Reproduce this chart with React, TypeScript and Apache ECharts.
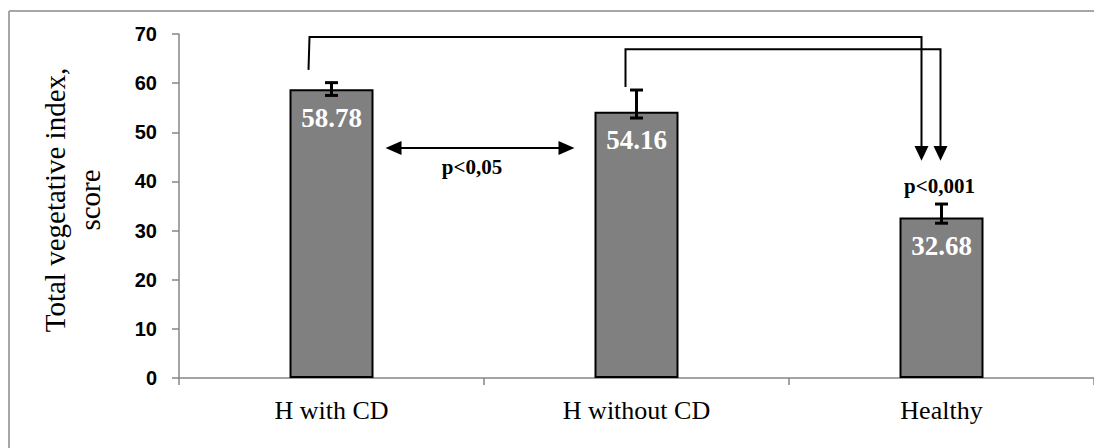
import React, { useEffect, useRef } from "react";
import * as echarts from "echarts";

const categories = ["H with CD", "H without CD", "Healthy"];
const meanValues = [58.78, 54.16, 32.68];
const errorLow = [57.5, 52.9, 31.5];
const errorHigh = [60.1, 58.6, 35.4];
const yMin = 0;
const yMax = 70;
const yInterval = 10;
const yTitle = "Total vegetative index,\nscore";
const pLabelPair12 = "p<0,05";
const pLabelHealthy = "p<0,001";

const SERIF = "'Liberation Serif', 'Times New Roman', serif";
const SANS = "'Liberation Sans', Arial, sans-serif";

export default function App() {
  const ref = useRef<HTMLDivElement>(null);

  useEffect(() => {
    if (!ref.current) return;
    const chart = echarts.init(ref.current, undefined, { renderer: "svg" });

    const option: any = {
      animation: false,
      backgroundColor: "#ffffff",
      grid: { left: 179, top: 34, width: 929, height: 344, containLabel: false },
      xAxis: {
        type: "category",
        data: categories,
        axisLine: { lineStyle: { color: "#868686", width: 1.5 } },
        axisTick: { show: true, length: 7, lineStyle: { color: "#868686", width: 1.5 } },
        axisLabel: {
          margin: 19,
          color: "#000",
          fontFamily: SERIF,
          fontSize: 26,
        },
      },
      yAxis: {
        type: "value",
        min: yMin,
        max: yMax,
        interval: yInterval,
        splitLine: { show: false },
        axisLine: { show: true, lineStyle: { color: "#868686", width: 1.5 } },
        axisTick: { show: true, length: 7, lineStyle: { color: "#868686", width: 1.5 } },
        axisLabel: {
          margin: 22,
          color: "#000",
          fontFamily: SANS,
          fontWeight: "bold",
          fontSize: 20,
        },
      },
      series: [
        {
          type: "bar",
          data: meanValues,
          barWidth: 84,
          itemStyle: { color: "#808080", borderColor: "#000", borderWidth: 2 },
          label: {
            show: true,
            position: "insideTop",
            distance: 15,
            color: "#fff",
            fontFamily: SERIF,
            fontWeight: "bold",
            fontSize: 27,
            formatter: (p: any) => Number(p.value).toFixed(2),
          },
          z: 2,
        },
        {
          type: "custom",
          data: categories.map((_, i) => [i, errorLow[i], errorHigh[i]]),
          encode: { x: 0, y: [1, 2] },
          z: 10,
          renderItem: (params: any, api: any) => {
            const i = api.value(0);
            const lo = api.coord([i, api.value(1)]);
            const hi = api.coord([i, api.value(2)]);
            const half = 6.5;
            const st = { stroke: "#000", lineWidth: 3 };
            return {
              type: "group",
              children: [
                { type: "line", shape: { x1: hi[0], y1: hi[1], x2: lo[0], y2: lo[1] }, style: st },
                { type: "line", shape: { x1: hi[0] - half, y1: hi[1], x2: hi[0] + half, y2: hi[1] }, style: st },
                { type: "line", shape: { x1: lo[0] - half, y1: lo[1], x2: lo[0] + half, y2: lo[1] }, style: st },
              ],
            };
          },
        },
      ],
    };

    chart.setOption(option);

    const px = (i: number) => chart.convertToPixel({ xAxisIndex: 0 }, i) as number;
    const py = (v: number) => chart.convertToPixel({ yAxisIndex: 0 }, v) as number;

    const c0 = px(0);
    const c1 = px(1);
    const c2 = px(2);
    const lineStyle = { stroke: "#000", lineWidth: 2, fill: null };

    const aX0 = c0 - 23;
    const aX1 = c2 - 20;
    const bX0 = c1 - 11;
    const bX1 = c2 - 1;
    const yA = py(69.4);
    const yB = py(66.9);
    const arrowBase = py(47.2);
    const arrowTip = py(44.2);
    const yDouble = py(46.8);
    const dL = c0 + 54;
    const dR = c1 - 62;

    const downHead = (cx: number) => ({
      type: "polygon",
      shape: { points: [[cx - 7, arrowBase], [cx + 7, arrowBase], [cx, arrowTip]] },
      style: { fill: "#000" },
      z: 20,
    });

    chart.setOption({
      graphic: [
        { type: "line", shape: { x1: 9, y1: 11, x2: 1094, y2: 11 }, style: { stroke: "#a6a6a6", lineWidth: 2 }, z: 1 },
        { type: "line", shape: { x1: 9, y1: 11, x2: 9, y2: 448 }, style: { stroke: "#a6a6a6", lineWidth: 2 }, z: 1 },
        {
          type: "text",
          x: 72,
          y: 200,
          rotation: Math.PI / 2,
          style: {
            text: yTitle,
            fontFamily: SERIF,
            fontSize: 29,
            lineHeight: 35,
            fill: "#000",
            align: "center",
            verticalAlign: "middle",
          },
          z: 5,
        },
        {
          type: "polyline",
          shape: { points: [[aX0, py(62.7)], [aX0 + 1, yA], [aX1, yA], [aX1, arrowBase]] },
          style: lineStyle,
          z: 20,
        },
        {
          type: "polyline",
          shape: { points: [[bX0, py(59.2)], [bX0, yB], [bX1, yB], [bX1, arrowBase]] },
          style: lineStyle,
          z: 20,
        },
        downHead(aX1),
        downHead(bX1),
        { type: "line", shape: { x1: dL + 12, y1: yDouble, x2: dR - 12, y2: yDouble }, style: { stroke: "#000", lineWidth: 2 }, z: 20 },
        { type: "polygon", shape: { points: [[dL, yDouble], [dL + 16, yDouble - 7], [dL + 16, yDouble + 7]] }, style: { fill: "#000" }, z: 20 },
        { type: "polygon", shape: { points: [[dR, yDouble], [dR - 16, yDouble - 7], [dR - 16, yDouble + 7]] }, style: { fill: "#000" }, z: 20 },
        {
          type: "text",
          x: (dL + dR) / 2 - 8,
          y: py(42.9),
          style: {
            text: pLabelPair12,
            fontFamily: SERIF,
            fontWeight: "bold",
            fontSize: 21,
            fill: "#000",
            align: "center",
            verticalAlign: "middle",
          },
          z: 20,
        },
        {
          type: "text",
          x: c2 - 2,
          y: py(39.1),
          style: {
            text: pLabelHealthy,
            fontFamily: SERIF,
            fontWeight: "bold",
            fontSize: 21,
            fill: "#000",
            align: "center",
            verticalAlign: "middle",
          },
          z: 20,
        },
      ],
    });

    return () => chart.dispose();
  }, []);

  return (
    <div
      ref={ref}
      style={{ position: "absolute", left: 0, top: 0, width: 1094, height: 448, background: "#fff" }}
    />
  );
}
